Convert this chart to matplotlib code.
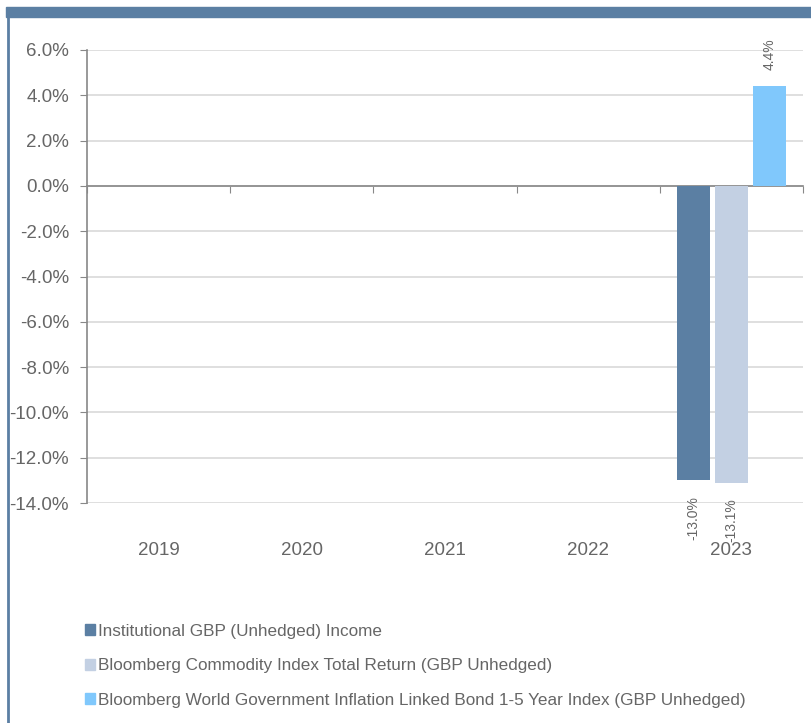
import matplotlib.pyplot as plt
from matplotlib.patches import Patch, Rectangle
from matplotlib.lines import Line2D

plt.rcParams['font.family'] = ['Liberation Sans', 'DejaVu Sans']

anios = ['2019', '2020', '2021', '2022', '2023']
series = ['Institutional GBP (Unhedged) Income',
          'Bloomberg Commodity Index Total Return (GBP Unhedged)',
          'Bloomberg World Government Inflation Linked Bond 1-5 Year Index (GBP Unhedged)']
# solo hay datos para 2023
valores_fondo = [None, None, None, None, -13.0]
valores_commodity = [None, None, None, None, -13.1]
valores_inflacion = [None, None, None, None, 4.4]
colores = ['#5b7fa3', '#c3d0e3', '#80c8fc']
gris = '#666666'

fig = plt.figure(figsize=(8.11, 7.23), dpi=100)

# marco: banda superior y linea izquierda
fig.patches.append(Rectangle((6 / 811, 1 - 17 / 723), 1, 10 / 723, transform=fig.transFigure,
                             color='#5b7fa3', zorder=0))
fig.lines.append(Line2D([7.5 / 811, 7.5 / 811], [0, 1 - 17 / 723], transform=fig.transFigure,
                        color='#5b7fa3', lw=2))

ax = fig.add_axes([87 / 811, 220 / 723, 716 / 811, 453 / 723])

ancho = 0.23
paso = 0.265
todas = [valores_fondo, valores_commodity, valores_inflacion]
for i, vals in enumerate(todas):
    for j, v in enumerate(vals):
        if v is None:
            continue
        x = j + (i - 1) * paso
        ax.bar(x, v, width=ancho, color=colores[i], zorder=3)
        if v >= 0:
            ax.annotate(f'{v:.1f}%', (x, v), xytext=(0, 11.5), textcoords='offset points',
                        rotation=90, ha='center', va='bottom', fontsize=10, color=gris)
        else:
            ax.annotate(f'{v:.1f}%', (x, v), xytext=(0, -11.5), textcoords='offset points',
                        rotation=90, ha='center', va='top', fontsize=10, color=gris)

ax.set_xlim(-0.5, len(anios) - 0.5)
ax.set_ylim(-14, 6)
ax.set_yticks(range(-14, 7, 2))
ax.set_yticklabels([f'{t:.1f}%' for t in range(-14, 7, 2)], fontsize=13.5, color=gris)
ax.tick_params(axis='y', length=5, color='#888888', pad=8)
ax.grid(axis='y', color='#d9d9d9', lw=1.2, zorder=0)

for s in ['top', 'right']:
    ax.spines[s].set_visible(False)
ax.spines['left'].set_color('#888888')
ax.spines['left'].set_linewidth(1.2)
ax.spines['bottom'].set_position(('data', 0))
ax.spines['bottom'].set_color('#888888')
ax.spines['bottom'].set_linewidth(1.2)

ax.set_xticks([k + 0.5 for k in range(-1, len(anios))])
ax.set_xticklabels([])
ax.tick_params(axis='x', length=5, color='#888888', direction='out')

sec = ax.secondary_xaxis('bottom')
sec.spines['bottom'].set_visible(False)
sec.set_xticks(range(len(anios)))
sec.set_xticklabels(anios, fontsize=13.5, color=gris)
sec.tick_params(length=0, pad=28)

handles = [Patch(color=c) for c in colores]
fig.legend(handles, series, loc='upper left', bbox_to_anchor=(76 / 811, 1 - 615 / 723),
           frameon=False, fontsize=12.3, labelcolor=gris, handlelength=0.6, handleheight=0.6,
           handletextpad=0.2, labelspacing=1.15, borderpad=0)

fig.savefig('out.png', dpi=100)
